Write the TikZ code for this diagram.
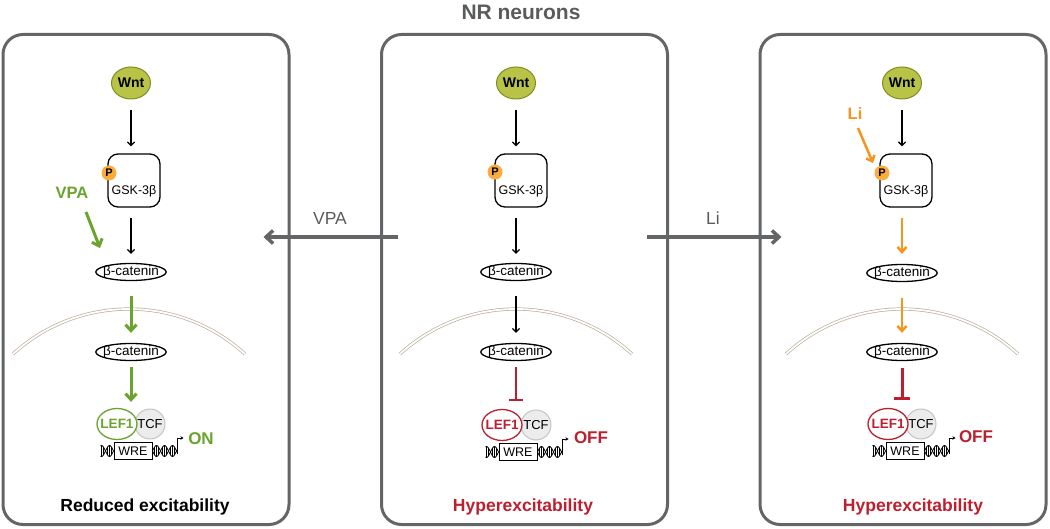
\documentclass[tikz,border=0pt]{standalone}
\usepackage{fontspec}
\setmainfont{Liberation Sans}
\usepackage{tikz}
\usetikzlibrary{shapes,arrows.meta,positioning}
\definecolor{panelgray}{RGB}{100,101,103}
\definecolor{titlegray}{RGB}{90,91,93}
\definecolor{wntfill}{RGB}{184,195,72}
\definecolor{wntline}{RGB}{125,142,32}
\definecolor{vpagreen}{RGB}{106,163,46}
\definecolor{liorange}{RGB}{247,148,30}
\definecolor{porange}{RGB}{250,172,62}
\definecolor{offred}{RGB}{188,32,46}
\definecolor{membrane}{RGB}{186,174,152}
\definecolor{tcffill}{RGB}{236,236,236}
\definecolor{tcfline}{RGB}{196,196,196}
\newcommand{\fsz}[1]{\fontsize{#1}{#1}\selectfont}

\begin{document}
\begin{tikzpicture}[x=1pt, y=-1pt,
    panel/.style={draw=panelgray, line width=3pt, rounded corners=20pt, minimum width=286pt, minimum height=490pt},
    treat/.style={text=titlegray, font=\fsz{17.5}},
    bigarrow/.style={-{Straight Barb[length=7pt, width=13pt]}, draw=panelgray, line width=3.5pt},
    wnt/.style={ellipse, draw=wntline, fill=wntfill, line width=1pt, minimum width=39pt, minimum height=32pt, inner sep=0pt, font=\fsz{14}\bfseries},
    gsk/.style={rectangle, draw, line width=1.3pt, rounded corners=10pt, minimum width=52pt, minimum height=53pt},
    gsktext/.style={font=\fsz{12.5}},
    ptag/.style={circle, fill=porange, minimum size=15pt, inner sep=0pt, font=\fsz{11}\bfseries},
    bcat/.style={ellipse, draw, line width=1.3pt, fill=white, minimum width=70pt, minimum height=17pt, inner sep=-3pt, font=\fsz{13.5}},
    lef/.style={ellipse, draw=#1, fill=white, line width=1.3pt, minimum width=40pt, minimum height=31pt, inner sep=-6pt, text=#1, font=\fsz{13.5}\bfseries},
    tcf/.style={circle, draw=tcfline, fill=tcffill, line width=1pt, minimum size=30pt, inner sep=0pt, font=\fsz{13}},
    wre/.style={rectangle, draw, line width=1pt, fill=white, minimum width=38pt, minimum height=17pt, inner sep=0pt, font=\fsz{12.5}},
    drug/.style={text=#1, font=\fsz{16.5}\bfseries},
    onoff/.style={text=#1, font=\fsz{17}\bfseries},
    effect/.style={text=#1, font=\fsz{17.5}\bfseries},
    nucleus/.style={draw=membrane, line width=0.7pt, double=white, double distance=1.8pt},
    arrow/.style={-{Straight Barb[length=3.5pt, width=7pt]}, line width=1.3pt},
    greenarrow/.style={-{Straight Barb[length=6pt, width=11pt]}, draw=vpagreen, line width=3pt},
    orangearrow/.style={-{Straight Barb[length=5pt, width=9pt]}, draw=liorange, line width=2.5pt},
    block/.style={-{Bar[width=#1]}, draw=offred},
    strand/.style={line width=0.8pt},
    rung/.style={line width=0.35pt},
    helixleft/.pic={
        \draw[strand] plot[domain=-13:0, samples=25] (\x,{5.5*sin(22.5*\x)});
        \draw[strand] plot[domain=-13:0, samples=25] (\x,{-5.5*sin(22.5*\x)});
        \foreach \rx in {-12,-10,...,-2}
            \draw[rung] (\rx,{5.5*sin(22.5*\rx)}) -- (\rx,{-5.5*sin(22.5*\rx)});
    },
    helixright/.pic={
        \draw[strand] plot[domain=0:25, samples=40] (\x,{5.5*sin(22.5*\x)});
        \draw[strand] plot[domain=0:25, samples=40] (\x,{-5.5*sin(22.5*\x)});
        \foreach \rx in {2,4,...,24}
            \draw[rung] (\rx,{5.5*sin(22.5*\rx)}) -- (\rx,{-5.5*sin(22.5*\rx)});
        \draw[strand, -{Stealth[length=3pt, width=3.5pt]}] (25,3) -- (25,-13) -- (31,-13);
    }
]
\useasboundingbox (0,0) rectangle (1050,529);

% title and panels
\node[font=\fsz{21}\bfseries, text=titlegray] (title) at (521,12) {NR neurons};
\node[panel] (leftpanel) at (146,279.5) {};
\node[panel] (midpanel) at (524.5,279.5) {};
\node[panel] (rightpanel) at (903,279.5) {};

% treatments
\draw[bigarrow] ([xshift=18pt, yshift=42.5pt]midpanel.west) -- ([xshift=-27pt, yshift=42.5pt]leftpanel.east);
\draw[bigarrow] ([xshift=-22pt, yshift=42.5pt]midpanel.east) -- ([xshift=23pt, yshift=42.5pt]rightpanel.west);
\node[treat] (vpalabel) at (330,218) {VPA};
\node[treat] (lilabel) at (713,218) {Li};

% left panel: VPA
\node[wnt] (wntL) at (131,83) {Wnt};
\node[gsk] (gskL) at (134,180.5) {};
\node[gsktext] (gsktxtL) at (134,191) {GSK-3β};
\node[ptag] (pL) at (109,173) {P};
\node[bcat] (bcatL) at (131,272) {β-catenin};
\draw[nucleus] (13,354) arc[start angle=227.6, end angle=312.4, radius=172];
\node[bcat] (nbcatL) at (131,352) {β-catenin};
\node[tcf] (tcfL) at (150,424) {TCF};
\node[lef=vpagreen] (lefL) at (117,424) {LEF1};
\node[wre] (wreL) at (133,451) {WRE};
\pic at (wreL.west) {helixleft};
\pic at (wreL.east) {helixright};
\node[onoff=vpagreen] (onL) at (201,439) {ON};
\node[effect=black] (effL) at (145,507) {Reduced excitability};
\node[drug=vpagreen] (vpaL) at (72,193) {VPA};
\coordinate (vpafromL) at (86,212);
\coordinate (vpatoL) at (100,248);

\draw[greenarrow] (vpafromL) -- (vpatoL);
\draw[arrow, shorten <=11pt, shorten >=7pt] (wntL.south) -- (wntL.south |- gskL.north);
\draw[arrow, shorten <=10pt, shorten >=9pt] (gskL.south -| bcatL) -- (bcatL.north);
\draw[greenarrow, shorten <=15pt, shorten >=10pt] (bcatL.south) -- (nbcatL.north);
\draw[greenarrow, shorten <=6pt, shorten >=6pt] (nbcatL.south) -- (nbcatL.south |- lefL.north);

% middle panel: untreated
\node[wnt] (wntM) at (516,83) {Wnt};
\node[gsk] (gskM) at (521,180.5) {};
\node[gsktext] (gsktxtM) at (521,191) {GSK-3β};
\node[ptag] (pM) at (495,172) {P};
\node[bcat] (bcatM) at (516,272) {β-catenin};
\draw[nucleus] (400,354) arc[start angle=227.6, end angle=312.4, radius=172];
\node[bcat] (nbcatM) at (516,352) {β-catenin};
\node[tcf] (tcfM) at (536,425) {TCF};
\node[lef=offred] (lefM) at (502,425) {LEF1};
\node[wre] (wreM) at (518,452) {WRE};
\pic at (wreM.west) {helixleft};
\pic at (wreM.east) {helixright};
\node[onoff=offred] (offM) at (591,438) {OFF};
\node[effect=offred] (effM) at (523,507) {Hyperexcitability};

\draw[arrow, shorten <=11pt, shorten >=7pt] (wntM.south) -- (wntM.south |- gskM.north);
\draw[arrow, shorten <=10pt, shorten >=9pt] (gskM.south -| bcatM) -- (bcatM.north);
\draw[arrow, shorten <=15pt, shorten >=10pt] (bcatM.south) -- (nbcatM.north);
\draw[block=14pt, line width=1.8pt, shorten <=6pt, shorten >=8pt] (nbcatM.south) -- (nbcatM.south |- lefM.north);

% right panel: Li
\node[wnt] (wntR) at (902,83) {Wnt};
\node[gsk] (gskR) at (906,180.5) {};
\node[gsktext] (gsktxtR) at (906,191) {GSK-3β};
\node[ptag] (pR) at (882,173) {P};
\node[bcat] (bcatR) at (902,273) {β-catenin};
\draw[nucleus] (786,354) arc[start angle=227.6, end angle=312.4, radius=172];
\node[bcat] (nbcatR) at (902,352) {β-catenin};
\node[tcf] (tcfR) at (921,424) {TCF};
\node[lef=offred] (lefR) at (888,424) {LEF1};
\node[wre] (wreR) at (905,451) {WRE};
\pic at (wreR.west) {helixleft};
\pic at (wreR.east) {helixright};
\node[onoff=offred] (offR) at (976,437) {OFF};
\node[effect=offred] (effR) at (913,507) {Hyperexcitability};
\node[drug=liorange] (liR) at (855,114) {Li};
\coordinate (lifromR) at (858,128);
\coordinate (litoR) at (873,163);

\draw[orangearrow] (lifromR) -- (litoR);
\draw[arrow, shorten <=11pt, shorten >=7pt] (wntR.south) -- (wntR.south |- gskR.north);
\draw[orangearrow, shorten <=10pt, shorten >=10pt] (gskR.south -| bcatR) -- (bcatR.north);
\draw[orangearrow, shorten <=16pt, shorten >=10pt] (bcatR.south) -- (nbcatR.north);
\draw[block=16pt, line width=3pt, shorten <=7pt, shorten >=8pt] (nbcatR.south) -- (nbcatR.south |- lefR.north);
\end{tikzpicture}
\end{document}
